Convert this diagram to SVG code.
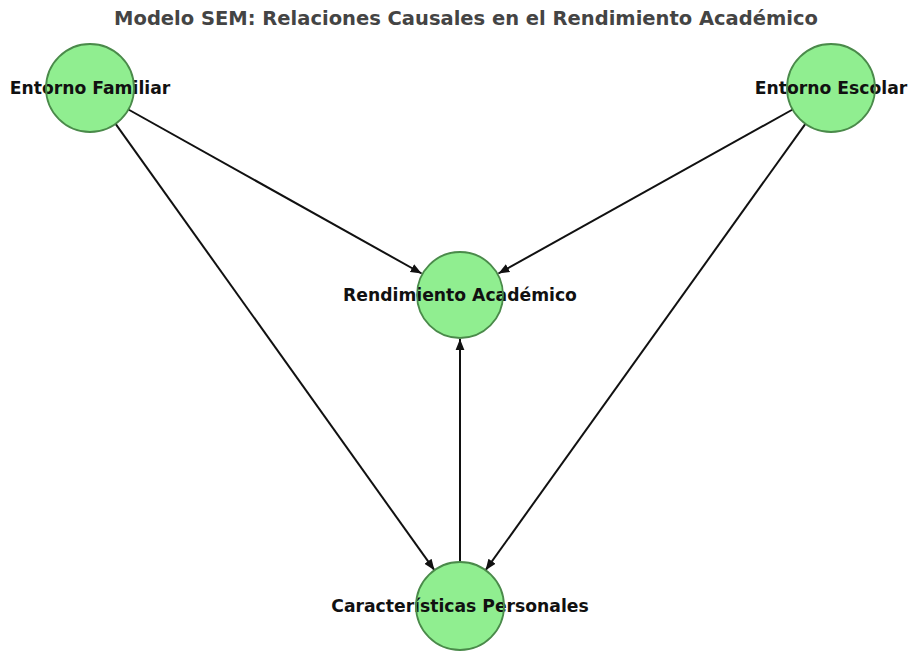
<svg xmlns="http://www.w3.org/2000/svg" width="911" height="651" viewBox="0 0 911 651">
<defs>
<style>
.node .fill{fill:#90ee90;stroke:none}
.node .ring{fill:none;stroke:#4a8a4a;stroke-width:1.8}
.node text{font-family:"DejaVu Sans",sans-serif;font-weight:bold;font-size:17.2px;fill:#111;text-anchor:middle}
.title{font-family:"DejaVu Sans",sans-serif;font-weight:bold;font-size:19.5px;fill:#444;text-anchor:middle}
#edges line{stroke:#111;stroke-width:2;marker-end:url(#ah)}
</style>
<marker id="ah" viewBox="0 0 10 10" refX="10" refY="5" markerWidth="5.5" markerHeight="5.5" orient="auto" markerUnits="strokeWidth">
<path d="M0,1 L10,5 L0,9 Z" fill="#111"/>
</marker>
</defs>
<rect width="911" height="651" fill="#fff"/>
<text class="title" x="466" y="25">Modelo SEM: Relaciones Causales en el Rendimiento Académico</text>
<g id="edges">
<line x1="128.4" y1="109.5" x2="421.6" y2="273.5"/>
<line x1="792.6" y1="109.5" x2="498.4" y2="273.5"/>
<line x1="115.6" y1="123.8" x2="434.4" y2="570.2"/>
<line x1="805.4" y1="123.8" x2="485.6" y2="570.2"/>
<line x1="460" y1="562" x2="460" y2="339"/>
</g>
<g id="entorno-familiar" class="node"><circle class="fill" cx="90" cy="88" r="44"/><text x="90" y="94">Entorno Familiar</text><circle class="ring" cx="90" cy="88" r="44"/></g>
<g id="entorno-escolar" class="node"><circle class="fill" cx="831" cy="88" r="44"/><text x="831" y="94">Entorno Escolar</text><circle class="ring" cx="831" cy="88" r="44"/></g>
<g id="rendimiento" class="node"><circle class="fill" cx="460" cy="295" r="43"/><text x="460" y="301">Rendimiento Académico</text><circle class="ring" cx="460" cy="295" r="43"/></g>
<g id="caracteristicas" class="node"><circle class="fill" cx="460" cy="606" r="44"/><text x="460" y="612">Características Personales</text><circle class="ring" cx="460" cy="606" r="44"/></g>
</svg>
